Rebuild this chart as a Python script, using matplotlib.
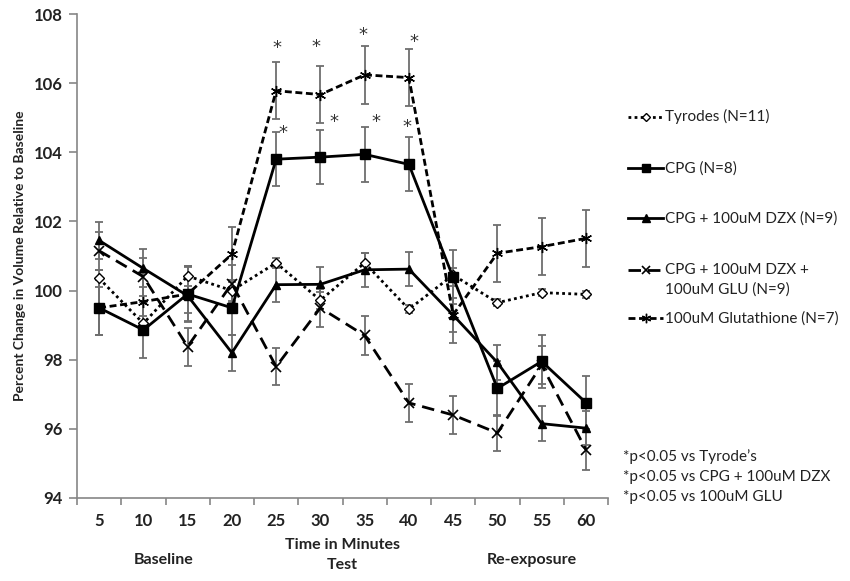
import numpy as np
import matplotlib.pyplot as plt
from matplotlib.lines import Line2D

plt.rcParams['font.family'] = ['Lato', 'DejaVu Sans']

# time points (minutes)
minutes = ['5', '10', '15', '20', '25', '30', '35', '40', '45', '50', '55', '60']

# mean percent change in volume and SEM for each group
tyrodes = [100.35, 99.05, 100.42, 100.0, 100.8, 99.72, 100.8, 99.46, 100.45, 99.65, 99.94, 99.89]
tyrodes_err = [0.25, 0.2, 0.3, 0.3, 0.15, 0.25, 0.3, 0.12, 0.2, 0.1, 0.1, 0.1]

cpg = [99.5, 98.86, 99.9, 99.5, 103.8, 103.86, 103.94, 103.65, 100.38, 97.17, 97.95, 96.76]
cpg_err = [0.8, 0.8, 0.78, 0.8, 0.78, 0.79, 0.79, 0.78, 0.78, 0.8, 0.77, 0.77]

cpg_dzx = [101.45, 100.64, 99.85, 98.2, 100.17, 100.18, 100.6, 100.62, 99.29, 97.92, 96.15, 96.02]
cpg_dzx_err = [0.53, 0.55, 0.5, 0.52, 0.5, 0.5, 0.5, 0.5, 0.5, 0.5, 0.5, 0.5]

cpg_dzx_glu = [101.15, 100.4, 98.38, 100.2, 97.8, 99.5, 98.7, 96.75, 96.4, 95.88, 97.85, 95.4]
cpg_dzx_glu_err = [0.55, 0.55, 0.55, 0.55, 0.54, 0.55, 0.55, 0.55, 0.54, 0.53, 0.55, 0.58]

glutathione = [99.5, 99.68, 99.9, 101.05, 105.78, 105.67, 106.24, 106.16, 99.3, 101.08, 101.27, 101.51]
glutathione_err = [0.8, 0.8, 0.8, 0.79, 0.82, 0.83, 0.83, 0.83, 0.82, 0.82, 0.82, 0.82]

# significance marks: (x index, y value)
star_x = [4.02, 4.89, 5.96, 7.12, 4.16, 5.31, 6.26, 6.95]
star_y = [107.13, 107.17, 107.51, 107.32, 104.69, 105.01, 105.01, 104.84]

groups = [
    ('Tyrodes (N=11)', tyrodes, tyrodes_err,
     dict(linestyle=(0, (1, 1.2)), marker='D', markersize=5, mfc='white', mew=1.0)),
    ('CPG (N=8)', cpg, cpg_err,
     dict(linestyle='-', marker='s', markersize=7, mfc='black', mew=1.0)),
    ('CPG + 100uM DZX (N=9)', cpg_dzx, cpg_dzx_err,
     dict(linestyle='-', marker='^', markersize=6, mfc='black', mew=1.0)),
    ('CPG + 100uM DZX +\n100uM GLU (N=9)', cpg_dzx_glu, cpg_dzx_glu_err,
     dict(linestyle=(0, (4.5, 2.5)), marker='x', markersize=7, mfc='none', mew=1.2)),
    ('100uM Glutathione (N=7)', glutathione, glutathione_err,
     dict(linestyle=(0, (2.5, 1.3)), marker=(6, 2, 0), markersize=8, mfc='none', mew=1.0)),
]

fig = plt.figure(figsize=(8.5, 5.81), dpi=100)
ax = fig.add_axes([0.0906, 0.1429, 0.6247, 0.8330])

x = np.arange(len(minutes))
for label, vals, err, style in groups:
    ax.errorbar(x, vals, yerr=err, fmt='none', ecolor='#6e6e6e', elinewidth=1.3,
                capsize=3, capthick=1.3, zorder=2)
    ax.plot(x, vals, color='black', mec='black', linewidth=2, zorder=3, **style)

for sx, sy in zip(star_x, star_y):
    ax.text(sx, sy - 0.12, '*', ha='center', va='center', fontsize=13,
            family='DejaVu Sans', color='#333333')

ax.set_xlim(-0.5, 11.5)
ax.set_ylim(94, 108)
ax.set_yticks(np.arange(94, 109, 2))
ax.set_xticks(np.arange(-0.5, 12, 1))
ax.set_xticklabels([])
ax.set_xticks(x, minor=True)
ax.set_xticklabels(minutes, minor=True)
ax.tick_params(axis='x', which='major', length=5, color='#868686', width=1.2)
ax.tick_params(axis='x', which='minor', length=0, pad=11, labelsize=12)
ax.tick_params(axis='y', length=6, color='#868686', width=1.2, pad=4, labelsize=12)
for lbl in ax.get_xticklabels(minor=True) + ax.get_yticklabels():
    lbl.set_fontweight('bold')
    lbl.set_color('#222222')

for side in ['top', 'right']:
    ax.spines[side].set_visible(False)
for side in ['left', 'bottom']:
    ax.spines[side].set_color('#868686')
    ax.spines[side].set_linewidth(1.2)

ax.set_ylabel('Percent Change in Volume Relative to Baseline', fontsize=10,
              fontweight='bold', color='#222222', labelpad=6)

trans = ax.get_xaxis_transform()
bottom_labels = [(1.45, -0.128, 'Baseline'), (5.5, -0.097, 'Time in Minutes'),
                 (5.5, -0.138, 'Test'), (9.78, -0.128, 'Re-exposure')]
for bx, by, text in bottom_labels:
    ax.text(bx, by, text, transform=trans, ha='center', va='center',
            fontsize=11.5, fontweight='bold', color='#222222')

# legend drawn by hand so the two-line entry keeps its handle on the first line
W, H = 850, 581
legend_y = [116.7, 168.3, 218.3, 270.0, 318.3]
for (label, vals, err, style), ly in zip(groups, legend_y):
    yf = 1 - ly / H
    fig.add_artist(Line2D([628 / W, 663 / W], [yf, yf], color='black', linewidth=2,
                          linestyle=style['linestyle']))
    fig.add_artist(Line2D([645.5 / W], [yf], linestyle='none', marker=style['marker'],
                          markersize=style['markersize'] * 0.85, mfc=style['mfc'],
                          mec='black', mew=style['mew']))
    lines = label.split('\n')
    for i, line in enumerate(lines):
        fig.text(665 / W, 1 - (ly + 20 * i) / H, line, ha='left', va='center',
                 fontsize=11, color='#222222')

notes = ['*p<0.05 vs Tyrode\u2019s', '*p<0.05 vs CPG + 100uM DZX', '*p<0.05 vs 100uM GLU']
for i, note in enumerate(notes):
    fig.text(623 / W, 1 - (456.7 + 20 * i) / H, note, ha='left', va='center',
             fontsize=11, color='#222222')

fig.savefig('out.png', dpi=100)
